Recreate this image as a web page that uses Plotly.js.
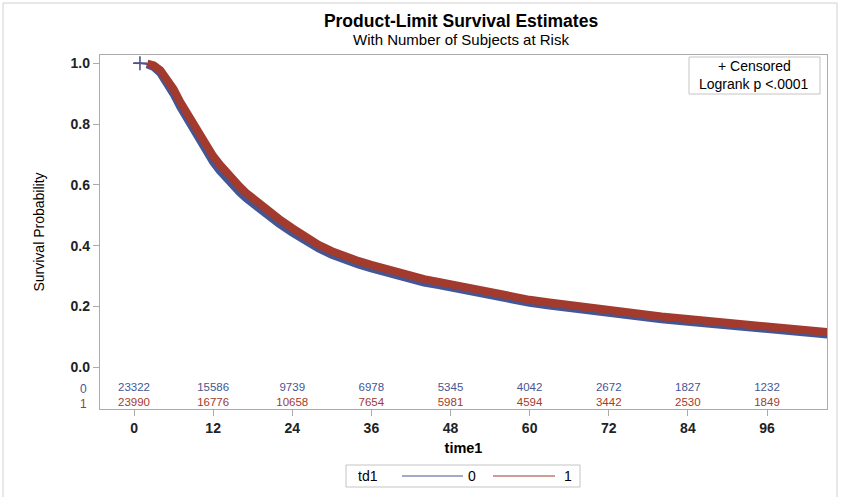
<!DOCTYPE html>
<html>
<head>
<meta charset="utf-8">
<script src="https://cdn.plot.ly/plotly-3.0.1.min.js"></script>
<style>
  html, body { margin: 0; padding: 0; background: #fff; }
  #chart { width: 844px; height: 497px; }
</style>
</head>
<body>
<div id="chart"></div>
<script>
// Kaplan-Meier estimates (months) for the two td1 groups
const time = [0, 1, 2, 3, 4, 5, 6, 7, 8, 9, 10, 11, 12, 13, 14, 15, 16, 17, 18, 19, 20,
  22, 24, 26, 28, 30, 32, 34, 36, 38, 40, 42, 44, 46, 48, 51, 54, 57, 60, 63, 66, 69, 72,
  76, 80, 84, 88, 92, 96, 100, 104, 105.5];
const surv0 = [1.0, 1.0, 0.997, 0.988, 0.968, 0.938, 0.899, 0.857, 0.818, 0.781, 0.743, 0.707,
  0.675, 0.647, 0.621, 0.597, 0.576, 0.556, 0.538, 0.521, 0.505, 0.472, 0.443, 0.416, 0.391,
  0.370, 0.352, 0.338, 0.325, 0.312, 0.299, 0.287, 0.279, 0.271, 0.262, 0.246, 0.233, 0.222,
  0.212, 0.203, 0.194, 0.185, 0.177, 0.167, 0.158, 0.150, 0.143, 0.135, 0.127, 0.118, 0.110, 0.107];
const surv1 = [1.0, 1.0, 0.999, 0.993, 0.977, 0.951, 0.915, 0.873, 0.836, 0.800, 0.763, 0.727,
  0.695, 0.667, 0.641, 0.617, 0.595, 0.574, 0.556, 0.539, 0.522, 0.488, 0.458, 0.430, 0.403,
  0.382, 0.364, 0.350, 0.337, 0.324, 0.310, 0.298, 0.290, 0.282, 0.273, 0.256, 0.243, 0.232,
  0.222, 0.213, 0.204, 0.194, 0.186, 0.176, 0.167, 0.159, 0.152, 0.143, 0.135, 0.126, 0.118, 0.115];

// early censored observation shown as a single "+"
const censTime0 = [0.9];
const censSurv0 = [1.0];

// number of subjects at risk
const riskTimes = [0, 12, 24, 36, 48, 60, 72, 84, 96];
const risk0 = [23322, 15586, 9739, 6978, 5345, 4042, 2672, 1827, 1232];
const risk1 = [23990, 16776, 10658, 7654, 5981, 4594, 3442, 2530, 1849];

const groups = ['0', '1'];
const xTicks = [0, 12, 24, 36, 48, 60, 72, 84, 96];
const yTicks = [0, 0.2, 0.4, 0.6, 0.8, 1.0];

const BLUE = '#445694';
const RED = '#A23A2E';
const FONT = 'Arial, "Liberation Sans", sans-serif';
const FRAME = '#ABABAB';

// where the dense band of censoring marks begins
const bandStart = 2;

// paper-coordinate helpers (plot area spans 100..827 px horizontally, 55..409 px vertically)
const px = v => (v - 100) / 727;
const py = v => (409 - v) / 354;
// data-coordinate helper for the y axis (1.0 at 63.3 px, 0.0 at 367.3 px)
const dy = v => (367.3 - v) / 304;

const riskRowY = [dy(388.5), dy(403.5)];

const traces = [
  // thin leading segments
  { x: time.slice(0, bandStart + 1), y: surv1.slice(0, bandStart + 1), mode: 'lines',
    line: { color: RED, width: 1.5 }, showlegend: false, hoverinfo: 'skip' },
  { x: time.slice(0, bandStart + 1), y: surv0.slice(0, bandStart + 1), mode: 'lines',
    line: { color: BLUE, width: 1.5 }, showlegend: false, hoverinfo: 'skip' },
  // thick bands of censored marks
  { x: time.slice(bandStart), y: surv0.slice(bandStart), mode: 'lines',
    line: { color: BLUE, width: 8 }, showlegend: false },
  { x: time.slice(bandStart), y: surv1.slice(bandStart), mode: 'lines',
    line: { color: RED, width: 8 }, showlegend: false },
  { x: censTime0, y: censSurv0, mode: 'markers',
    marker: { symbol: 'cross-thin-open', size: 10, color: BLUE, line: { color: BLUE, width: 1.6 } },
    showlegend: false },
  // at-risk table
  { x: riskTimes, y: riskTimes.map(() => riskRowY[0]), mode: 'text',
    text: risk0.map(String), textfont: { family: FONT, size: 11.5, color: BLUE },
    showlegend: false, hoverinfo: 'skip' },
  { x: riskTimes, y: riskTimes.map(() => riskRowY[1]), mode: 'text',
    text: risk1.map(String), textfont: { family: FONT, size: 11.5, color: RED },
    showlegend: false, hoverinfo: 'skip' }
];

const shapes = [
  // outer graph border
  { type: 'rect', xref: 'paper', yref: 'paper', x0: px(3), x1: px(837), y0: py(500), y1: py(3),
    line: { color: '#D0D0D0', width: 1 }, layer: 'below' },
  // inset box
  { type: 'rect', xref: 'paper', yref: 'paper', x0: px(689), x1: px(820), y0: py(94), y1: py(57),
    line: { color: '#C4C4C4', width: 1 }, fillcolor: '#fff' },
  // legend box and sample lines
  { type: 'rect', xref: 'paper', yref: 'paper', x0: px(346), x1: px(580), y0: py(487), y1: py(465),
    line: { color: '#C4C4C4', width: 1 } },
  { type: 'line', xref: 'paper', yref: 'paper', x0: px(402), x1: px(463), y0: py(476), y1: py(476),
    line: { color: BLUE, width: 1.2 } },
  { type: 'line', xref: 'paper', yref: 'paper', x0: px(493), x1: px(555), y0: py(476), y1: py(476),
    line: { color: RED, width: 1.2 } }
];

const note = (text, x, y, size, color, extra) => Object.assign({
  text: text, xref: 'paper', yref: 'paper', x: x, y: y, xanchor: 'center', yanchor: 'middle',
  showarrow: false, font: { family: FONT, size: size, color: color || '#000' }
}, extra || {});

const annotations = [
  note('With Number of Subjects at Risk', px(461), py(40), 15),
  note('+ Censored', px(754), py(66.5), 14),
  note('Logrank p <.0001', px(754), py(84), 14),
  note('td1', px(368), py(476), 14),
  note(groups[0], px(472), py(476), 14),
  note(groups[1], px(568), py(476), 14),
  // group labels for the at-risk rows
  note(groups[0], px(83), riskRowY[0], 12, BLUE, { yref: 'y' }),
  note(groups[1], px(83), riskRowY[1], 12, RED, { yref: 'y' })
];

const layout = {
  width: 844,
  height: 497,
  margin: { l: 100, r: 17, t: 55, b: 88, pad: 0 },
  paper_bgcolor: '#fff',
  plot_bgcolor: '#fff',
  showlegend: false,
  font: { family: FONT, color: '#000' },
  title: {
    text: 'Product-Limit Survival Estimates',
    font: { family: FONT, size: 17.5, weight: 700, color: '#000' },
    xref: 'paper', x: px(461), xanchor: 'center',
    yref: 'container', y: 1 - 21 / 497, yanchor: 'middle'
  },
  xaxis: {
    range: [-5.16, 105.1],
    tickvals: xTicks,
    ticktext: xTicks.map(String),
    ticks: 'outside', ticklen: 6, tickcolor: FRAME, tickwidth: 1,
    tickfont: { family: FONT, size: 14, weight: 700, color: '#222' },
    showline: true, linecolor: FRAME, linewidth: 1.2, mirror: true,
    showgrid: false, zeroline: false,
    title: { text: 'time1', standoff: 7, font: { family: FONT, size: 14.5, weight: 700, color: '#000' } }
  },
  yaxis: {
    range: [dy(409), dy(55)],
    tickvals: yTicks,
    ticktext: yTicks.map(v => v.toFixed(1)),
    ticks: 'outside', ticklen: 6, tickcolor: FRAME, tickwidth: 1,
    tickfont: { family: FONT, size: 14, weight: 700, color: '#222' },
    showline: true, linecolor: FRAME, linewidth: 1.2, mirror: true,
    showgrid: false, zeroline: false,
    title: { text: 'Survival Probability', standoff: 22, font: { family: FONT, size: 14, color: '#000' } }
  },
  shapes: shapes,
  annotations: annotations
};

Plotly.newPlot('chart', traces, layout, { displayModeBar: false, staticPlot: true });
</script>
</body>
</html>
